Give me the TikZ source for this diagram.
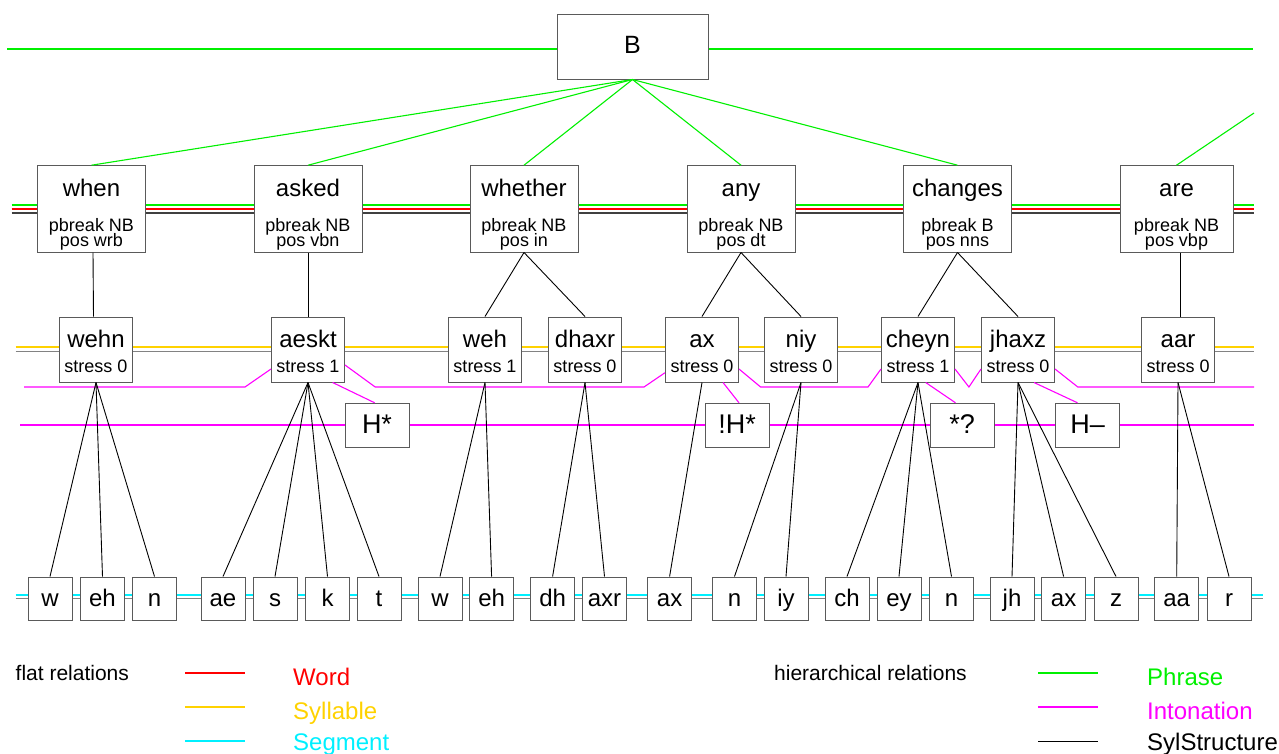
\documentclass[tikz,border=0pt]{standalone}
\usepackage{fontspec}
\setmainfont{Liberation Sans}
\definecolor{phrasegreen}{RGB}{0,240,0}
\definecolor{wordred}{RGB}{255,0,0}
\definecolor{sylyellow}{RGB}{255,210,0}
\definecolor{segcyan}{RGB}{0,240,255}
\definecolor{intmagenta}{RGB}{255,0,255}
\definecolor{boxgray}{RGB}{90,90,90}
\definecolor{nextgray}{RGB}{130,130,130}
\newcommand{\bigsz}{\fontsize{24}{28}\selectfont}
\newcommand{\accsz}{\fontsize{27}{30}\selectfont}
\newcommand{\smallsz}{\fontsize{18}{20}\selectfont}
\newcommand{\legsz}{\fontsize{21}{24}\selectfont}

\begin{document}
\begin{tikzpicture}[x=1pt,y=1pt,
  rel/.style={line width=1.25pt},
  phraserel/.style={rel,draw=phrasegreen},
  wordrel/.style={rel,draw=wordred},
  sylrel/.style={rel,draw=sylyellow},
  segrel/.style={rel,draw=segcyan},
  intrel/.style={rel,draw=intmagenta},
  structrel/.style={line width=0.9pt,draw=black},
  structnext/.style={line width=1.1pt,draw=nextgray},
  itembox/.style={draw=boxgray,fill=white,line width=1pt,rectangle},
  wordbox/.style={itembox,minimum height=86.3pt},
  sylbox/.style={itembox,minimum width=73pt,minimum height=65pt},
  accbox/.style={itembox,font=\accsz,minimum width=64pt,text height=30pt,text depth=14pt},
  segbox/.style={itembox,font=\bigsz,minimum width=44pt,text height=29.7pt,text depth=13.3pt},
  bigtext/.style={font=\bigsz,anchor=base},
  smalltext/.style={font=\smallsz,anchor=base},
  legtext/.style={font=\legsz,anchor=base west},
  legname/.style={font=\bigsz,anchor=base west}]
\tikzstyle{every node}+=[inner sep=0pt]
\useasboundingbox (0,0) rectangle (1279,-753);
\coordinate (phL) at (7,-49);
\coordinate (phR) at (1253,-49);
\coordinate (wgL) at (11.7,-205);
\coordinate (wgR) at (1254,-205);
\coordinate (wrL) at (11.7,-209);
\coordinate (wrR) at (1254,-209);
\coordinate (wkL) at (11.7,-213);
\coordinate (wkR) at (1254,-213);
\coordinate (syL) at (15.7,-347);
\coordinate (syR) at (1254,-347);
\coordinate (skL) at (15.7,-351.5);
\coordinate (skR) at (1254,-351.5);
\coordinate (acL) at (20,-425);
\coordinate (acR) at (1254,-425);
\coordinate (sgL) at (15.7,-595);
\coordinate (sgR) at (1263,-595);
\coordinate (gkL) at (15.7,-598.5);
\coordinate (gkR) at (1263,-598.5);
\draw [phraserel] (phL) -- (phR);
\draw [phraserel] (wgL) -- (wgR);
\draw [wordrel] (wrL) -- (wrR);
\draw [draw=black!75,line width=1.1pt] (wkL) -- (wkR);
\draw [sylrel] (syL) -- (syR);
\draw [structnext] (skL) -- (skR);
\draw [intrel] (acL) -- (acR);
\draw [segrel] (sgL) -- (sgR);
\draw [structnext] (gkL) -- (gkR);
\node [itembox,font=\fontsize{25}{28}\selectfont,minimum width=151pt,text height=39pt,text depth=26pt] (B) at (632.5,-46.5) {B};
\foreach \n/\x/\bw/\word/\pb/\pos in {1/91.5/108/when/NB/wrb, 2/308/108/asked/NB/vbn, 3/524/108/whether/NB/in, 4/741/108/any/NB/dt, 5/957.5/108/changes/B/nns, 6/1176.5/113/are/NB/vbp}
{
  \node [wordbox,minimum width=\bw pt] (w\n) at (\x,-208.85) {};
  \node [bigtext] (wt\n) at ([yshift=-31.6pt]w\n.north) {\word};
  \node [smalltext] (wp\n) at ([yshift=-66pt]w\n.north) {pbreak \pb};
  \node [smalltext] (wq\n) at ([yshift=-81.5pt]w\n.north) {pos \pos};
}
\foreach \n in {1,...,5}
  \draw [phraserel,line width=1.1pt] (B.south) -- (w\n.north);
\coordinate (nextB) at (1254,-113);
\draw [phraserel,line width=1.1pt] (w6.north) -- (nextB);
\foreach \n/\x/\syl/\st in {1/96/wehn/0, 2/308/aeskt/1, 3/485/weh/1, 4/585/dhaxr/0, 5/702/ax/0, 6/801/niy/0, 7/918/cheyn/1, 8/1018/jhaxz/0, 9/1178/aar/0}
{
  \node [sylbox] (s\n) at (\x,-349.5) {};
  \node [bigtext] (st\n) at ([yshift=-30.7pt]s\n.north) {\syl};
  \node [smalltext] (ss\n) at ([yshift=-56pt]s\n.north) {stress \st};
}
\draw [structrel] ([xshift=1.5pt]w1.south) -- ([xshift=-2.5pt]s1.north);
\draw [structrel] (w2.south) -- (s2.north);
\draw [structrel] (w3.south) -- (s3.north);
\draw [structrel] (w3.south) -- (s4.north);
\draw [structrel] (w4.south) -- (s5.north);
\draw [structrel] (w4.south) -- (s6.north);
\draw [structrel] (w5.south) -- (s7.north);
\draw [structrel] (w5.south) -- (s8.north);
\draw [structrel] ([xshift=4pt]w6.south) -- ([xshift=2.5pt]s9.north);
\coordinate (inL) at (24,-387);
\coordinate (inR) at (1254,-387);
\draw [intrel,line width=1.1pt] (inL) -- ([shift={(-26,-37.5)}]s2.west) -- ([yshift=-19.5pt]s2.west)
  ([yshift=-15.5pt]s2.east) -- ([shift={(30.2,-37.5)}]s2.east) -- ([shift={(-21,-37.5)}]s5.west) -- ([yshift=-23.2pt]s5.west)
  ([yshift=-19.5pt]s5.east) -- ([shift={(21.6,-37.5)}]s5.east) -- ([shift={(-13,-37.5)}]s7.west) -- ([yshift=-19.5pt]s7.west)
  ([yshift=-19.5pt]s7.east) -- ([shift={(13.9,-37.5)}]s7.east) -- ([yshift=-19.5pt]s8.west)
  ([yshift=-19.5pt]s8.east) -- ([shift={(22.8,-37.5)}]s8.east) -- (inR);
\foreach \n/\x/\acc in {1/377/H*, 2/737/!H*, 3/962/*?, 4/1087.5/H--}
  \node [accbox] (a\n) at (\x,-425.3) {\acc};
\draw [intrel,line width=1.1pt] ([xshift=24.6pt]s2.south) -- ([xshift=-2.3pt]a1.north);
\draw [intrel,line width=1.1pt] ([xshift=21pt]s5.south) -- ([xshift=2pt]a2.north);
\draw [intrel,line width=1.1pt] ([xshift=7.7pt]s7.south) -- ([xshift=-6.5pt]a3.north);
\draw [intrel,line width=1.1pt] ([xshift=16pt]s8.south) -- ([xshift=-10pt]a4.north);
\foreach \n/\x/\seg/\p in {1/50/w/1, 2/102.5/eh/1, 3/154.5/n/1, 4/223/ae/2, 5/275/s/2, 6/327.5/k/2, 7/379/t/2, 8/440/w/3, 9/491.6/eh/3, 10/552.6/dh/4, 11/604.5/axr/4, 12/669.6/ax/5, 13/734.5/n/6, 14/786/iy/6, 15/847/ch/7, 16/899/ey/7, 17/951.5/n/7, 18/1012/jh/8, 19/1063.6/ax/8, 20/1116/z/8, 21/1176.7/aa/9, 22/1229/r/9}
{
  \node [segbox] (g\n) at (\x,-598.5) {\seg};
  \draw [structrel] (s\p.south) -- (g\n.north);
}
\node [legtext] (flat) at (15.5,-680) {flat relations};
\node [legtext] (hier) at (774,-680) {hierarchical relations};
\coordinate (lf1a) at (185,-673);
\coordinate (lf1b) at (245,-673);
\coordinate (lf2a) at (185,-707);
\coordinate (lf2b) at (245,-707);
\coordinate (lf3a) at (185,-741);
\coordinate (lf3b) at (245,-741);
\coordinate (lh1a) at (1038,-673);
\coordinate (lh1b) at (1098,-673);
\coordinate (lh2a) at (1038,-707);
\coordinate (lh2b) at (1098,-707);
\coordinate (lh3a) at (1038,-741);
\coordinate (lh3b) at (1098,-741);
\draw [wordrel] (lf1a) -- (lf1b);
\draw [sylrel] (lf2a) -- (lf2b);
\draw [segrel] (lf3a) -- (lf3b);
\draw [phraserel] (lh1a) -- (lh1b);
\draw [intrel] (lh2a) -- (lh2b);
\draw [structrel] (lh3a) -- (lh3b);
\node [legname,text=wordred] (lword) at (293,-685) {Word};
\node [legname,text=sylyellow] (lsyl) at (293,-719) {Syllable};
\node [legname,text=segcyan] (lseg) at (293,-750) {Segment};
\node [legname,text=phrasegreen] (lphr) at (1147,-685) {Phrase};
\node [legname,text=intmagenta] (lint) at (1147,-719) {Intonation};
\node [legname] (lsyls) at (1147,-750) {SylStructure};
\end{tikzpicture}
\end{document}
